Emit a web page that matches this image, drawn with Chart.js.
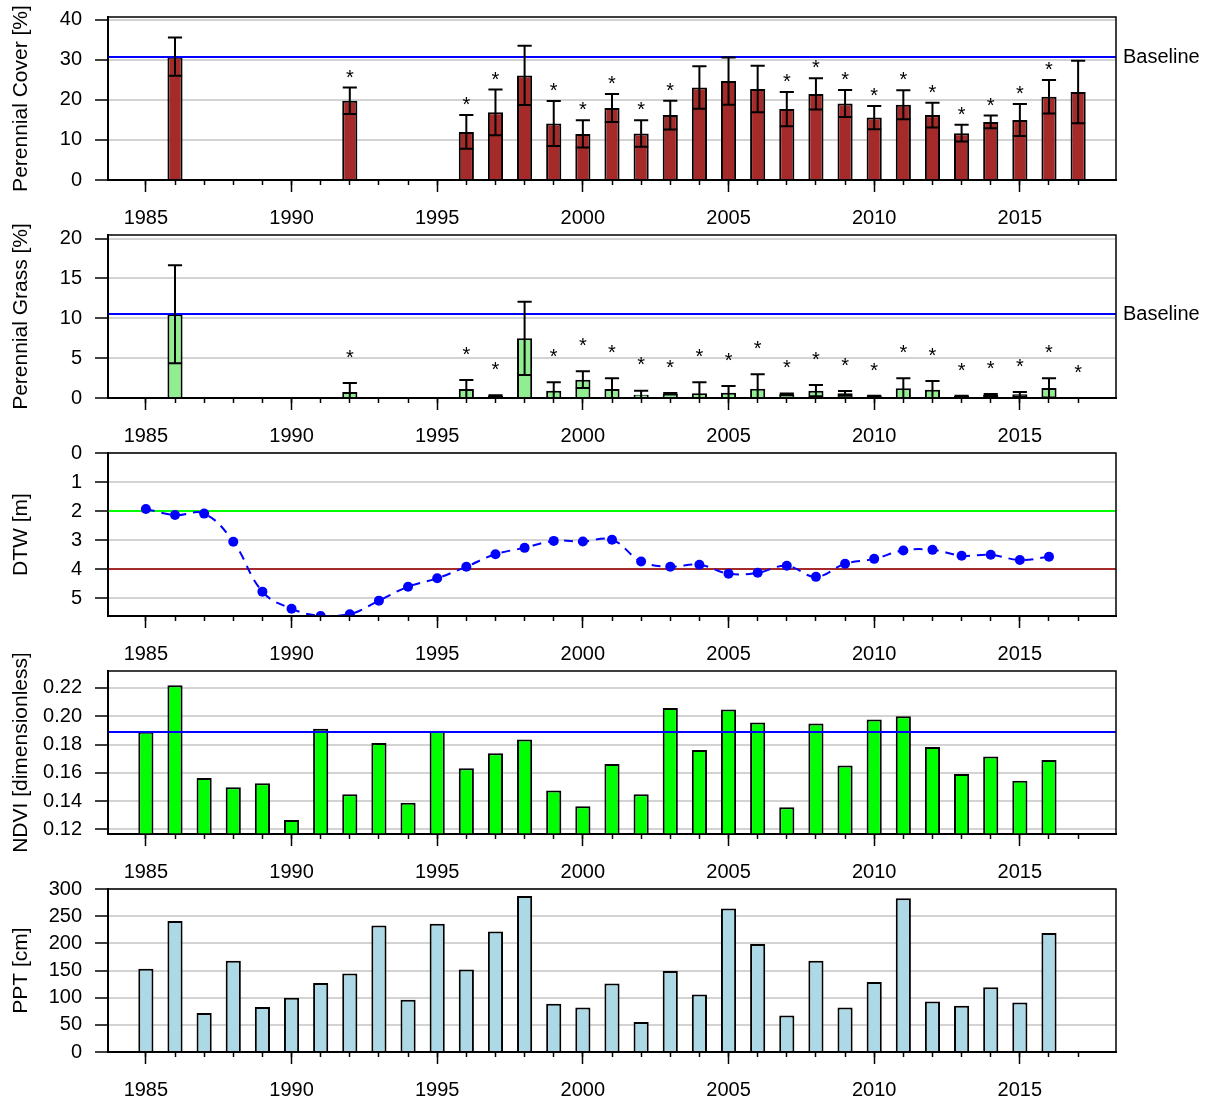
<!DOCTYPE html>
<html>
<head>
<meta charset="utf-8">
<script src="https://cdn.jsdelivr.net/npm/chart.js@4.4.0/dist/chart.umd.min.js"></script>
<style>
html, body { margin: 0; padding: 0; background: #fff; overflow: hidden; }
#wrap { position: relative; width: 1217px; height: 1100px; background: #fff; }
#wrap canvas { position: absolute; left: 0; }
</style>
</head>
<body>
<div id="wrap">
  <canvas id="c1" width="1217" height="240" style="top:0px"></canvas>
  <canvas id="c2" width="1217" height="240" style="top:218px"></canvas>
  <canvas id="c3" width="1217" height="240" style="top:436px"></canvas>
  <canvas id="c4" width="1217" height="240" style="top:654px"></canvas>
  <canvas id="c5" width="1217" height="240" style="top:872px"></canvas>
</div>
<script>
// ---------------- DATA ----------------
const minorYears = [1985,1986,1987,1988,1989,1990,1991,1992,1993,1994,1995,1996,1997,1998,1999,2000,2001,2002,2003,2004,2005,2006,2007,2008,2009,2010,2011,2012,2013,2014,2015,2016,2017];
const majorYears = [1985,1990,1995,2000,2005,2010,2015];

// Perennial cover (mean, sd, significance star)
const coverYears = [1986,1992,1996,1997,1998,1999,2000,2001,2002,2003,2004,2005,2006,2007,2008,2009,2010,2011,2012,2013,2014,2015,2016,2017];
const coverMean  = [30.8,19.8,12.0,16.9,26.1,14.1,11.5,18.0,11.6,16.2,23.1,24.7,22.7,17.7,21.5,19.1,15.6,18.8,16.2,11.7,14.5,15.0,20.8,22.0];
const coverSd    = [4.8,3.3,4.2,5.7,7.4,5.6,3.4,3.5,3.3,3.6,5.3,5.9,5.8,4.3,3.9,3.4,2.9,3.6,3.1,2.1,1.6,4.0,4.2,7.8];
const coverStar  = [0,1,1,1,0,1,1,1,1,1,0,0,0,1,1,1,1,1,1,1,1,1,1,0];
const coverTicks = [0,10,20,30,40];
const coverBaseline = 30.6;

// Perennial grass
const grassYears = [1986,1992,1996,1997,1998,1999,2000,2001,2002,2003,2004,2005,2006,2007,2008,2009,2010,2011,2012,2013,2014,2015,2016,2017];
const grassMean  = [10.5,0.75,1.13,0.29,7.49,0.92,2.30,1.13,0.42,0.54,0.59,0.67,1.17,0.46,0.92,0.59,0.25,1.21,1.05,0.25,0.38,0.46,1.26,0];
const grassSd    = [6.15,1.13,1.13,0.05,4.6,1.05,1.05,1.34,0.5,0.1,1.38,0.83,1.8,0.1,0.71,0.3,0.02,1.26,1.08,0.02,0.12,0.3,1.21,0];
const grassStar  = [0,1,1,1,0,1,1,1,1,1,1,1,1,1,1,1,1,1,1,1,1,1,1,1];
const grassTicks = [0,5,10,15,20];
const grassBaseline = 10.5;

// Depth to water
const dtwYears  = [1985,1986,1987,1988,1989,1990,1991,1992,1993,1994,1995,1996,1997,1998,1999,2000,2001,2002,2003,2004,2005,2006,2007,2008,2009,2010,2011,2012,2013,2014,2015,2016];
const dtwValues = [1.93,2.14,2.09,3.06,4.78,5.37,5.62,5.56,5.09,4.61,4.32,3.92,3.49,3.27,3.03,3.05,2.99,3.74,3.92,3.85,4.16,4.13,3.89,4.27,3.82,3.65,3.36,3.34,3.54,3.51,3.69,3.58];
const dtwTicks  = [0,1,2,3,4,5];
const dtwUpperRef = 2;
const dtwLowerRef = 4;

// NDVI
const ndviYears  = [1985,1986,1987,1988,1989,1990,1991,1992,1993,1994,1995,1996,1997,1998,1999,2000,2001,2002,2003,2004,2005,2006,2007,2008,2009,2010,2011,2012,2013,2014,2015,2016];
const ndviValues = [0.189,0.222,0.1564,0.1498,0.1526,0.1266,0.1911,0.1449,0.181,0.1388,0.1897,0.1632,0.1738,0.1836,0.1475,0.1364,0.1662,0.1449,0.2059,0.1761,0.2047,0.1956,0.1357,0.1949,0.1651,0.1977,0.2000,0.1782,0.1592,0.1716,0.1543,0.1691];
const ndviTicks  = [0.12,0.14,0.16,0.18,0.20,0.22];
const ndviBaseline = 0.1885;

// Precipitation
const pptYears  = [1985,1986,1987,1988,1989,1990,1991,1992,1993,1994,1995,1996,1997,1998,1999,2000,2001,2002,2003,2004,2005,2006,2007,2008,2009,2010,2011,2012,2013,2014,2015,2016];
const pptValues = [153,241,72,168,83,100,127,144.5,233,96,236,152,222,287,89,82,126,55,149,106,264,199,67,168,82,129,283,93,85,119,91,219];
const pptTicks  = [0,50,100,150,200,250,300];

// ---------------- STYLE / LAYOUT ----------------
const FONT = "'Liberation Sans', Arial, Helvetica, sans-serif";
Chart.defaults.font.family = FONT;
Chart.defaults.font.size = 20;
Chart.defaults.color = '#000';

const X_MIN = 1983.7, X_MAX = 2018.3;
const STAR_OFFSET = 3.85;

function drawLines(chart, lines) {
  const ctx = chart.ctx, a = chart.chartArea, ys = chart.scales.y;
  ctx.save();
  lines.forEach(l => {
    const py = Math.round(ys.getPixelForValue(l.value));
    ctx.strokeStyle = l.color;
    ctx.lineWidth = 2;
    ctx.beginPath();
    ctx.moveTo(a.left, py);
    ctx.lineTo(a.right, py);
    ctx.stroke();
    if (l.label) {
      ctx.fillStyle = '#000';
      ctx.font = '20px ' + FONT;
      ctx.textAlign = 'left';
      ctx.textBaseline = 'middle';
      ctx.fillText(l.label, a.right + 7, py);
    }
  });
  ctx.restore();
}

function drawErrors(chart, e) {
  const ctx = chart.ctx, a = chart.chartArea, ys = chart.scales.y;
  const meta = chart.getDatasetMeta(0);
  ctx.save();
  ctx.beginPath();
  ctx.rect(a.left, a.top, a.right - a.left, a.bottom - a.top);
  ctx.clip();
  ctx.strokeStyle = '#000';
  ctx.lineWidth = 2;
  meta.data.forEach((el, i) => {
    const m = e.mean[i], sd = e.sd[i];
    const x = el.x, hw = el.width / 2 - 0.5;
    const yt = ys.getPixelForValue(m + sd);
    const yb = ys.getPixelForValue(Math.max(0, m - sd));
    ctx.beginPath();
    ctx.moveTo(x, yt); ctx.lineTo(x, yb);
    ctx.moveTo(x - hw, yt); ctx.lineTo(x + hw, yt);
    ctx.moveTo(x - hw, yb); ctx.lineTo(x + hw, yb);
    ctx.stroke();
    if (e.star[i]) {
      ctx.fillStyle = '#000';
      ctx.font = '20px ' + FONT;
      ctx.textAlign = 'center';
      ctx.textBaseline = 'alphabetic';
      ctx.fillText('*', x, ys.getPixelForValue(m + sd + STAR_OFFSET) + 11.5);
    }
  });
  ctx.restore();
}

const panelExtras = {
  id: 'panelExtras',
  beforeDatasetsDraw(chart, args, o) {
    if (o && o.lines && o.linesFirst) drawLines(chart, o.lines);
  },
  afterDatasetsDraw(chart, args, o) {
    if (o && o.lines && !o.linesFirst) drawLines(chart, o.lines);
    if (o && o.errors) drawErrors(chart, o.errors);
  },
  afterDraw(chart) {
    const ctx = chart.ctx, a = chart.chartArea;
    ctx.save();
    ctx.strokeStyle = '#000';
    ctx.lineWidth = 1.5;
    ctx.strokeRect(a.left, a.top, a.right - a.left, a.bottom - a.top);
    ctx.restore();
  }
};
Chart.register(panelExtras);

function xScales() {
  return {
    xMinor: {
      type: 'linear', position: 'bottom', weight: -1,
      min: X_MIN, max: X_MAX, offset: false,
      afterBuildTicks: s => { s.ticks = minorYears.map(v => ({ value: v })); },
      afterFit: s => { s.height = 0; s.paddingLeft = 0; s.paddingRight = 0; },
      ticks: { display: false },
      grid: { drawOnChartArea: false, drawTicks: true, tickLength: 5, tickColor: '#000', tickWidth: 1.5, offset: false },
      border: { display: false }
    },
    x: {
      type: 'linear', position: 'bottom', weight: 0,
      min: X_MIN, max: X_MAX, offset: false,
      afterBuildTicks: s => { s.ticks = majorYears.map(v => ({ value: v })); },
      afterFit: s => { s.height = 60; s.paddingLeft = 0; s.paddingRight = 0; },
      ticks: { autoSkip: false, maxRotation: 0, minRotation: 0, padding: 14, font: { size: 20 }, color: '#000', callback: v => String(v) },
      grid: { drawOnChartArea: false, drawTicks: true, tickLength: 12, tickColor: '#000', tickWidth: 1.5, offset: false },
      border: { display: true, color: '#000', width: 2 }
    }
  };
}

function yAxis(title, min, max, tickArr, fmt, reverse) {
  return {
    type: 'linear', position: 'left', min: min, max: max, reverse: !!reverse,
    afterBuildTicks: s => { s.ticks = tickArr.map(v => ({ value: v })); },
    afterFit: s => { s.width = 108; s.paddingTop = 0; s.paddingBottom = 0; },
    ticks: { autoSkip: false, padding: 13, font: { size: 20 }, color: '#000', callback: fmt },
    grid: { color: '#D3D3D3', lineWidth: 2, tickColor: '#000', tickLength: 13, tickWidth: 1.5, drawTicks: true },
    border: { display: true, color: '#000', width: 2 },
    title: { display: true, text: title, font: { size: 21 }, color: '#000', padding: { top: 9, bottom: 0 } }
  };
}

function baseOptions(yCfg, extras) {
  const sc = xScales();
  sc.y = yCfg;
  return {
    responsive: false,
    animation: false,
    devicePixelRatio: 1,
    layout: { padding: { top: 17, right: 101, left: 0, bottom: 0 } },
    plugins: { legend: { display: false }, tooltip: { enabled: false }, title: { display: false }, panelExtras: extras },
    scales: sc
  };
}

const intFmt = v => String(v);

// Panel 1: Perennial cover
new Chart(document.getElementById('c1'), {
  type: 'bar',
  data: { datasets: [{
    data: coverYears.map((x, i) => ({ x: x, y: coverMean[i] })),
    backgroundColor: '#A52A2A', borderColor: '#000', borderWidth: 2,
    barPercentage: 0.52, categoryPercentage: 1.0
  }] },
  options: baseOptions(
    yAxis('Perennial Cover [%]', 0, 40.7, coverTicks, intFmt),
    { lines: [{ value: coverBaseline, color: '#0000FF', label: 'Baseline' }],
      errors: { mean: coverMean, sd: coverSd, star: coverStar } })
});

// Panel 2: Perennial grass
new Chart(document.getElementById('c2'), {
  type: 'bar',
  data: { datasets: [{
    data: grassYears.map((x, i) => ({ x: x, y: grassMean[i] })),
    backgroundColor: '#90EE90', borderColor: '#000', borderWidth: 2,
    barPercentage: 0.52, categoryPercentage: 1.0
  }] },
  options: baseOptions(
    yAxis('Perennial Grass [%]', 0, 20.45, grassTicks, intFmt),
    { lines: [{ value: grassBaseline, color: '#0000FF', label: 'Baseline' }],
      errors: { mean: grassMean, sd: grassSd, star: grassStar } })
});

// Panel 3: DTW
new Chart(document.getElementById('c3'), {
  type: 'line',
  data: { datasets: [{
    data: dtwYears.map((x, i) => ({ x: x, y: dtwValues[i] })),
    borderColor: '#0000FF', borderWidth: 2, borderDash: [9, 7], tension: 0.4,
    pointRadius: 5, pointBackgroundColor: '#0000FF', pointBorderWidth: 0,
    fill: false, clip: 0
  }] },
  options: baseOptions(
    yAxis('DTW [m]', 0, 5.62, dtwTicks, intFmt, true),
    { linesFirst: true, lines: [{ value: dtwUpperRef, color: '#00FF00' }, { value: dtwLowerRef, color: '#A52A2A' }] })
});

// Panel 4: NDVI
new Chart(document.getElementById('c4'), {
  type: 'bar',
  data: { datasets: [{
    data: ndviYears.map((x, i) => ({ x: x, y: ndviValues[i] })),
    backgroundColor: '#00FF00', borderColor: '#000', borderWidth: 2,
    barPercentage: 0.52, categoryPercentage: 1.0
  }] },
  options: baseOptions(
    yAxis('NDVI [dimensionless]', 0.1167, 0.232, ndviTicks, v => Number(v).toFixed(2)),
    { lines: [{ value: ndviBaseline, color: '#0000FF' }] })
});

// Panel 5: PPT
new Chart(document.getElementById('c5'), {
  type: 'bar',
  data: { datasets: [{
    data: pptYears.map((x, i) => ({ x: x, y: pptValues[i] })),
    backgroundColor: '#ADD8E6', borderColor: '#000', borderWidth: 2,
    barPercentage: 0.52, categoryPercentage: 1.0
  }] },
  options: baseOptions(
    yAxis('PPT [cm]', 0, 300, pptTicks, intFmt),
    {})
});
</script>
</body>
</html>
